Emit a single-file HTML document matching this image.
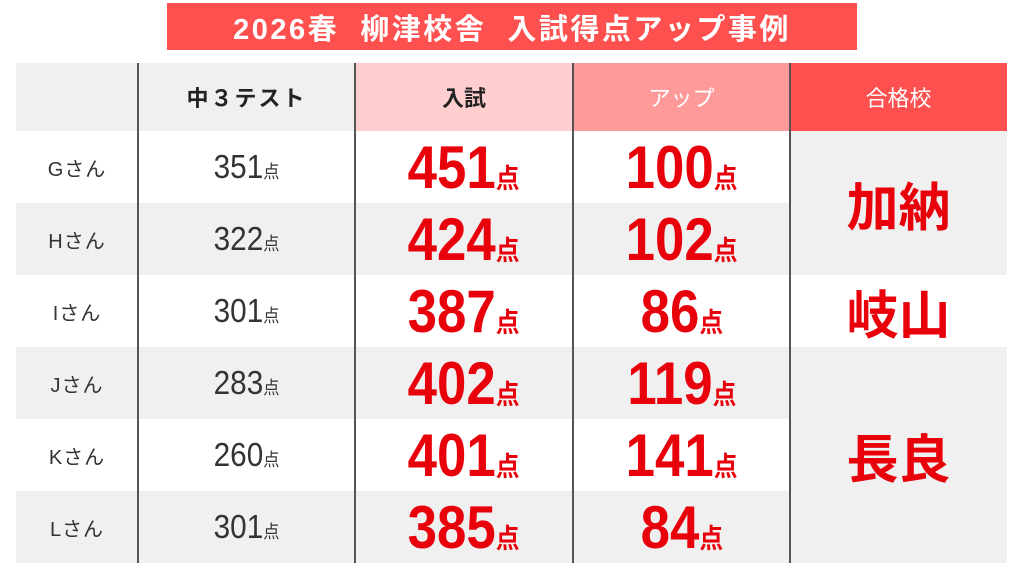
<!DOCTYPE html>
<html><head><meta charset="utf-8"><style>
body{margin:0;width:1024px;height:576px;background:#fff;position:relative;overflow:hidden;font-family:"Liberation Sans","Noto Sans CJK JP",sans-serif}
.a{position:absolute;box-sizing:border-box;display:flex;align-items:center;justify-content:center}
.t{left:167px;top:3px;width:690px;height:47px;background:#ff5050;color:#fff;font-weight:bold;font-size:29px;letter-spacing:2.5px}
.g{background:#f0f0f0}
.n{font-size:20px;color:#333;letter-spacing:1px}
.s{font-size:33px;color:#333}
.s span{display:inline-flex;align-items:baseline;transform:scaleX(.9)}
.s small{font-size:18px}
.b{font-size:60px;font-weight:bold;color:#e8000b}
.b span{display:inline-flex;align-items:baseline;transform:scaleX(.88)}
.b small{font-size:27px;font-family:"Noto Sans CJK JP",sans-serif}
.h{font-size:22px;font-weight:bold;color:#222}
.sch{font-size:52px;font-weight:bold;color:#e8000b}
.v{position:absolute;top:63px;height:500px;width:2px;background:#555}
</style></head><body>
<div class="a t">2026春&nbsp;&nbsp;柳津校舎&nbsp;&nbsp;入試得点アップ事例</div>
<div class="a g" style="left:16px;top:63px;width:339px;height:68px"></div>
<div class="a h" style="left:138px;top:63px;width:217px;height:68px;letter-spacing:2px">中３テスト</div>
<div class="a h" style="left:355px;top:63px;width:218px;height:68px;background:#ffcfcf">入試</div>
<div class="a h" style="left:573px;top:63px;width:217px;height:68px;background:#ff9a9a;color:#fff;font-weight:normal">アップ</div>
<div class="a h" style="left:790px;top:63px;width:217px;height:68px;background:#ff5050;color:#fff;font-weight:normal">合格校</div>
<div class="a g" style="left:16px;top:203px;width:774px;height:72px"></div>
<div class="a g" style="left:16px;top:347px;width:774px;height:72px"></div>
<div class="a g" style="left:16px;top:491px;width:774px;height:72px"></div>
<div class="a g" style="left:790px;top:131px;width:217px;height:144px"></div>
<div class="a g" style="left:790px;top:347px;width:217px;height:216px"></div>
<div class="a n" style="left:16px;top:131px;width:122px;height:72px">Gさん</div>
<div class="a n" style="left:16px;top:203px;width:122px;height:72px">Hさん</div>
<div class="a n" style="left:16px;top:275px;width:122px;height:72px">Iさん</div>
<div class="a n" style="left:16px;top:347px;width:122px;height:72px">Jさん</div>
<div class="a n" style="left:16px;top:419px;width:122px;height:72px">Kさん</div>
<div class="a n" style="left:16px;top:491px;width:122px;height:72px">Lさん</div>
<div class="a s" style="left:138px;top:131px;width:217px;height:72px"><span>351<small>点</small></span></div>
<div class="a s" style="left:138px;top:203px;width:217px;height:72px"><span>322<small>点</small></span></div>
<div class="a s" style="left:138px;top:275px;width:217px;height:72px"><span>301<small>点</small></span></div>
<div class="a s" style="left:138px;top:347px;width:217px;height:72px"><span>283<small>点</small></span></div>
<div class="a s" style="left:138px;top:419px;width:217px;height:72px"><span>260<small>点</small></span></div>
<div class="a s" style="left:138px;top:491px;width:217px;height:72px"><span>301<small>点</small></span></div>
<div class="a b" style="left:355px;top:131px;width:218px;height:72px"><span>451<small>点</small></span></div>
<div class="a b" style="left:355px;top:203px;width:218px;height:72px"><span>424<small>点</small></span></div>
<div class="a b" style="left:355px;top:275px;width:218px;height:72px"><span>387<small>点</small></span></div>
<div class="a b" style="left:355px;top:347px;width:218px;height:72px"><span>402<small>点</small></span></div>
<div class="a b" style="left:355px;top:419px;width:218px;height:72px"><span>401<small>点</small></span></div>
<div class="a b" style="left:355px;top:491px;width:218px;height:72px"><span>385<small>点</small></span></div>
<div class="a b" style="left:573px;top:131px;width:217px;height:72px"><span>100<small>点</small></span></div>
<div class="a b" style="left:573px;top:203px;width:217px;height:72px"><span>102<small>点</small></span></div>
<div class="a b" style="left:573px;top:275px;width:217px;height:72px"><span>86<small>点</small></span></div>
<div class="a b" style="left:573px;top:347px;width:217px;height:72px"><span>119<small>点</small></span></div>
<div class="a b" style="left:573px;top:419px;width:217px;height:72px"><span>141<small>点</small></span></div>
<div class="a b" style="left:573px;top:491px;width:217px;height:72px"><span>84<small>点</small></span></div>
<div class="a sch" style="left:790px;top:131px;width:217px;height:144px">加納</div>
<div class="a sch" style="left:790px;top:275px;width:217px;height:72px">岐山</div>
<div class="a sch" style="left:790px;top:347px;width:217px;height:216px">長良</div>
<div class="v" style="left:137px"></div>
<div class="v" style="left:354px"></div>
<div class="v" style="left:572px"></div>
<div class="v" style="left:789px"></div>
</body></html>
